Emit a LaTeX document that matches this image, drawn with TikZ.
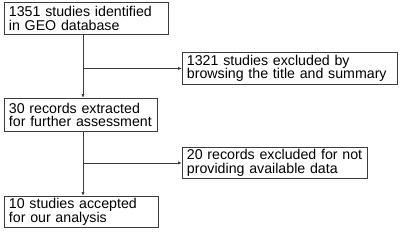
\documentclass[tikz,border=0pt]{standalone}
\usepackage{fontspec}
\setmainfont{Liberation Sans}
\usetikzlibrary{arrows.meta,positioning}
\definecolor{BoxGray}{RGB}{60,60,60}

\tikzset{
  stepbox/.style={draw=BoxGray,line width=0.9pt,anchor=north west,
    inner xsep=4.5pt,inner ysep=0pt,align=left,
    font=\fontsize{14.2}{13.4}\selectfont},
  arr/.style={-{Latex[length=4pt,width=3.2pt]},BoxGray,line width=0.9pt}
}

\begin{document}
\begin{tikzpicture}[x=1pt,y=1pt,>=Latex]
  \useasboundingbox (0,0) rectangle (400,-231);
  % boxes of the flow
  \node[stepbox,text width=155pt,minimum height=32pt] (geo) at (4,-2)
    {1351 studies identified\\in GEO database};
  \node[stepbox,text width=206pt,minimum height=32pt] (title) at (182,-52)
    {1321 studies excluded by\\browsing the title and summary};
  \node[stepbox,text width=144pt,minimum height=33pt] (extract) at (4,-98)
    {30 records extracted\\for further assessment};
  \node[stepbox,text width=176pt,minimum height=31pt] (nodata) at (182,-147)
    {20 records excluded for not\\providing available data};
  \node[stepbox,text width=145pt,minimum height=31pt] (accept) at (4,-196)
    {10 studies accepted\\for our analysis};
  % trunk and branches
  \coordinate (trunk) at (83,0);
  \draw[arr] (geo.south -| trunk) -- (extract.north -| trunk);
  \coordinate (cut1) at (title.west -| trunk);
  \draw[arr] (cut1) -- (title.west);
  \draw[arr] (extract.south -| trunk) -- (accept.north -| trunk);
  \coordinate (cut2) at (nodata.west -| trunk);
  \draw[arr] (cut2) -- (nodata.west);
\end{tikzpicture}
\end{document}
